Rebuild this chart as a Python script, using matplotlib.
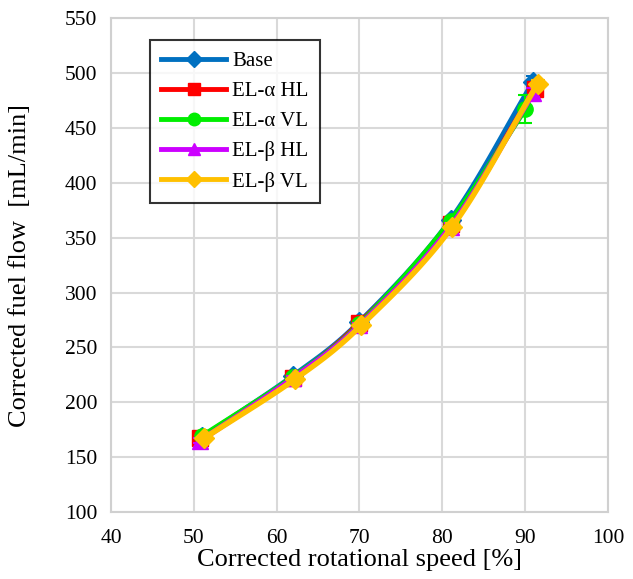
import numpy as np
import matplotlib
matplotlib.use("Agg")
from matplotlib import pyplot as plt

plt.rcParams['font.family'] = ['Liberation Serif', 'DejaVu Serif']

labels = ['Base', 'EL-α HL', 'EL-α VL', 'EL-β HL', 'EL-β VL']
colors = ['#0070C0', '#FF0000', '#00EE00', '#CC00FF', '#FFC000']
markers = ['D', 's', 'o', '^', 'D']

speed = [
    [51.0, 62.0, 70.0, 81.0, 91.0],
    [50.8, 62.0, 70.0, 81.0, 91.2],
    [51.0, 62.0, 70.0, 81.0, 90.0],
    [50.8, 62.0, 70.0, 81.0, 91.0],
    [51.2, 62.2, 70.2, 81.2, 91.5],
]
flow = [
    [168, 224, 273, 366, 492],
    [167, 222, 272, 362, 485],
    [169, 223, 271, 365, 467],
    [165, 222, 270, 360, 482],
    [167, 221, 270, 360, 490],
]
flow_err = [
    [2, 2, 2, 3, 5],
    [2, 2, 2, 3, 4],
    [2, 2, 2, 3, 13],
    [2, 2, 2, 3, 4],
    [2, 2, 2, 3, 4],
]


def smooth(x, y, n=30):
    # catmull-rom curve through the points, like the spreadsheet "smoothed line"
    x = np.asarray(x, float)
    y = np.asarray(y, float)
    px = np.concatenate([[2 * x[0] - x[1]], x, [2 * x[-1] - x[-2]]])
    py = np.concatenate([[2 * y[0] - y[1]], y, [2 * y[-1] - y[-2]]])
    t = np.linspace(0, 1, n)
    xs, ys = [], []
    for i in range(1, len(px) - 2):
        for p, out in ((px, xs), (py, ys)):
            p0, p1, p2, p3 = p[i - 1], p[i], p[i + 1], p[i + 2]
            out.extend(0.5 * (2 * p1 + (-p0 + p2) * t
                              + (2 * p0 - 5 * p1 + 4 * p2 - p3) * t ** 2
                              + (-p0 + 3 * p1 - 3 * p2 + p3) * t ** 3))
    return xs, ys


fig = plt.figure(figsize=(6.33, 5.79), dpi=100)
ax = fig.add_axes([0.1754, 0.1157, 0.785, 0.853])

for i in range(len(labels)):
    xs, ys = smooth(speed[i], flow[i])
    ax.plot(xs, ys, color=colors[i], lw=4, zorder=3 + i, solid_capstyle='round')
    ax.errorbar(speed[i], flow[i], yerr=flow_err[i], fmt='none', ecolor=colors[i],
                elinewidth=1.5, capsize=5, capthick=1.5, zorder=3 + i)
    ms = 11 if markers[i] in ('s', 'o', '^') else 10
    ax.plot(speed[i], flow[i], ls='none', marker=markers[i], ms=ms,
            color=colors[i], zorder=3 + i)

handles = [plt.Line2D([], [], color=colors[i], lw=3.5, marker=markers[i],
                      ms=8 if markers[i] == 'D' else 9) for i in range(len(labels))]
leg = ax.legend(handles, labels, loc='upper left', bbox_to_anchor=(0.078, 0.956),
                fontsize=15, frameon=True, fancybox=False, edgecolor='black',
                handlelength=3.1, labelspacing=0.5, borderpad=0.55, handletextpad=0.3,
                borderaxespad=0)
leg.get_frame().set_linewidth(1.5)

ax.set_xlim(40, 100)
ax.set_ylim(100, 550)
ax.set_xticks(range(40, 101, 10))
ax.set_yticks(range(100, 551, 50))
ax.grid(True, color='#d9d9d9', lw=1.5)
ax.set_axisbelow(True)
for s in ax.spines.values():
    s.set_color('#d0d0d0')
    s.set_linewidth(1.5)
ax.tick_params(length=0, labelsize=15.5)
ax.tick_params(axis='x', pad=12)
ax.tick_params(axis='y', pad=10)
ax.set_xlabel('Corrected rotational speed [%]', fontsize=19, labelpad=1)
ax.set_ylabel('Corrected fuel flow  [mL/min]', fontsize=19, labelpad=24)

fig.savefig('out.png', dpi=100)
